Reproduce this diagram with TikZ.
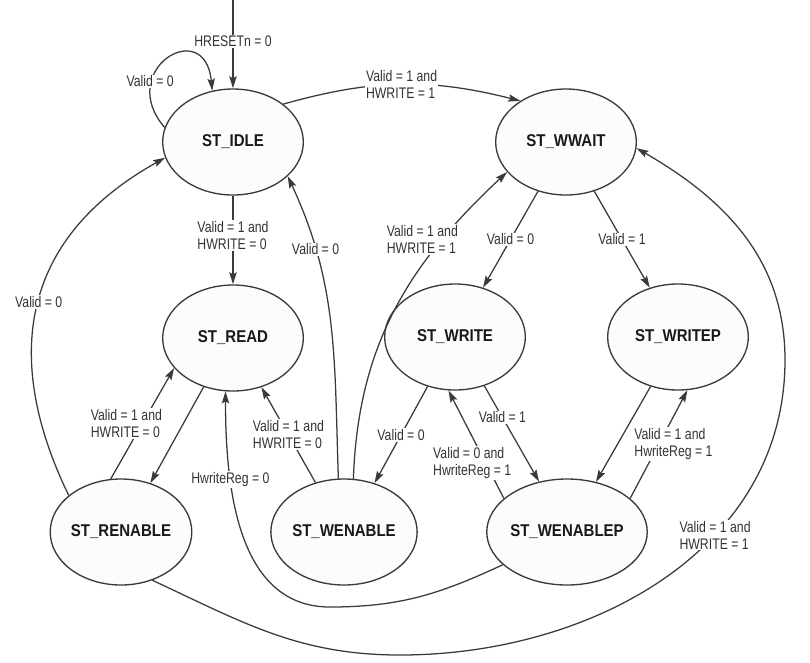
\documentclass[tikz,border=0pt]{standalone}
\usepackage{fontspec}
\setmainfont{Liberation Sans}
\newfontfamily\statefont{Liberation Sans}[FakeStretch=0.88]
\newfontfamily\condfont{Liberation Sans}[FakeStretch=0.8]
\usetikzlibrary{arrows.meta,shapes.geometric}
\definecolor{linegray}{HTML}{3A3A3A}
\definecolor{statefill}{HTML}{FEFCFA}
\tikzset{
  trans/.style={draw=linegray,line width=0.95pt,-{Stealth[length=9pt,width=5.5pt,inset=1.5pt]}},
  lbl/.style={fill=white,inner sep=1pt,align=left,text=black!80,
    font=\condfont\fontsize{11.5}{12.8}\selectfont}
}
\begin{document}
\begin{tikzpicture}[x=0.75pt,y=-0.75pt]
  \useasboundingbox (0,0) rectangle (810,662);

  \begin{scope}[every node/.style={ellipse,draw=linegray,line width=1pt,fill=statefill,
      minimum width=105.5pt,minimum height=79.5pt,inner sep=0pt,text=black!90,
      font=\statefont\bfseries\fontsize{12.8}{14}\selectfont}]
    \node (idle) at (233,142) {ST\_IDLE};
    \node (wwait) at (566,142) {ST\_WWAIT};
    \node (read) at (233,338) {ST\_READ};
    \node (write) at (455,337) {ST\_WRITE};
    \node (writep) at (678,337) {ST\_WRITEP};
    \node (renable) at (121,532) {ST\_RENABLE};
    \node (wenable) at (344,532) {ST\_WENABLE};
    \node (wenablep) at (567,532) {ST\_WENABLEP};
  \end{scope}

  \coordinate (rst) at (233,0);
  \coordinate (rdlow) at (330,607);
  \coordinate (botmid) at (400,655);
  \coordinate (rtmid) at (785,360);

  \begin{scope}[every edge/.style={trans}]
    \path (rst) edge node[lbl,pos=0.47] {HRESETn = 0} (idle);
    \draw[trans] (idle.168) .. controls (115,70) and (205,15) .. node[lbl,pos=0.25,yshift=4pt] {Valid = 0} (idle.112);
    \path (idle.37) edge[bend left=15] node[lbl] {Valid = 1 and\\HWRITE = 1} (wwait.138);
    \path (idle) edge node[lbl,pos=0.45] {Valid = 1 and\\HWRITE = 0} (read);
    \path (wenable.96) edge[out=92,in=-65] node[lbl,pos=0.76] {Valid = 0} (idle.-32);
    \path (wenable.80) edge[out=88,in=-137] node[lbl,pos=0.75,xshift=-15pt] {Valid = 1 and\\HWRITE = 1} (wwait.207);
    \path (wwait) edge node[lbl] {Valid = 0} (write);
    \path (wwait) edge node[lbl] {Valid = 1} (writep);
    \draw[trans] (renable.145) .. controls (15,385) and (0,250) .. node[lbl,pos=0.55] {Valid = 0} (idle.193);
    \path (renable.101) edge node[lbl,xshift=-12pt] {Valid = 1 and\\HWRITE = 0} (read.207);
    \path (read.239) edge (renable.59);
    \draw[trans] (wenablep.207) to[out=205,in=0] (rdlow) to[out=180,in=-90] node[lbl,pos=0.7] {HwriteReg = 0} (read.262);
    \path (wenable.120) edge node[lbl] {Valid = 1 and\\HWRITE = 0} (read.-60);
    \path (write.241) edge node[lbl] {Valid = 0} (wenable.58);
    \path (wenablep.152) edge node[lbl,pos=0.33,xshift=-10pt] {Valid = 0 and\\HwriteReg = 1} (write.263);
    \path (write.-59) edge node[lbl,pos=0.33] {Valid = 1} (wenablep.119);
    \path (writep.241) edge (wenablep.60);
    \path (wenablep.28) edge node[lbl,xshift=11pt] {Valid = 1 and\\HwriteReg = 1} (writep.-80);
    \draw[trans] (renable.-57) to[out=-25,in=180] (botmid) to[out=0,in=-90] node[lbl,pos=0.63] {Valid = 1 and\\HWRITE = 1} (rtmid) to[out=90,in=-30] (wwait.-5);
  \end{scope}
\end{tikzpicture}
\end{document}
